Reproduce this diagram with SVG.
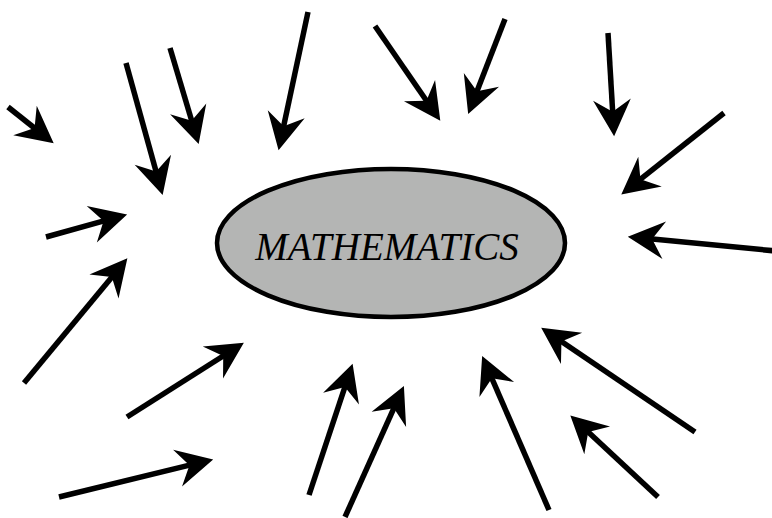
<svg xmlns="http://www.w3.org/2000/svg" width="772" height="518" viewBox="0 0 772 518">
<style>
.arr{stroke:#000;stroke-width:5.5;fill:none;marker-end:url(#ah)}
.lbl{font-family:"Liberation Serif","Times New Roman",serif;font-style:italic;font-size:39px;fill:#000}
</style>
<defs>
<marker id="ah" markerUnits="userSpaceOnUse" markerWidth="40" markerHeight="40" viewBox="-14 -18 36 36" refX="0" refY="0" orient="auto" overflow="visible">
<path d="M20,0 L-13,-17 L-2,0 L-13,17 Z" fill="#000"/>
</marker>
</defs>
<rect width="772" height="518" fill="#fff"/>
<g id="mathematics">
<ellipse cx="391" cy="243" rx="174" ry="74" fill="#b4b5b4" stroke="#000" stroke-width="4.5"/>
<text class="lbl" x="387" y="260" text-anchor="middle">MATHEMATICS</text>
</g>
<g id="connectors">
<line class="arr" x1="8" y1="107" x2="36.3" y2="129.5"/>
<line class="arr" x1="126" y1="63" x2="156.7" y2="173.7"/>
<line class="arr" x1="170" y1="48" x2="192.3" y2="122.8"/>
<line class="arr" x1="308" y1="12" x2="283.2" y2="128.4"/>
<line class="arr" x1="375" y1="26" x2="427.7" y2="102.5"/>
<line class="arr" x1="505" y1="19" x2="476.2" y2="93.3"/>
<line class="arr" x1="608" y1="33" x2="612.8" y2="114"/>
<line class="arr" x1="724" y1="113" x2="638.7" y2="180.6"/>
<line class="arr" x1="776" y1="251" x2="649.9" y2="238.8"/>
<line class="arr" x1="46" y1="237" x2="105.7" y2="220.4"/>
<line class="arr" x1="24" y1="383" x2="113.2" y2="275.4"/>
<line class="arr" x1="127" y1="417" x2="225.1" y2="354.7"/>
<line class="arr" x1="59" y1="497" x2="191.6" y2="464.7"/>
<line class="arr" x1="309" y1="495" x2="345.6" y2="384.9"/>
<line class="arr" x1="345" y1="517" x2="394.8" y2="406.2"/>
<line class="arr" x1="549" y1="510" x2="491" y2="376.3"/>
<line class="arr" x1="695" y1="432" x2="559.6" y2="340.2"/>
<line class="arr" x1="658" y1="497" x2="586.6" y2="430.6"/>
</g>
</svg>
